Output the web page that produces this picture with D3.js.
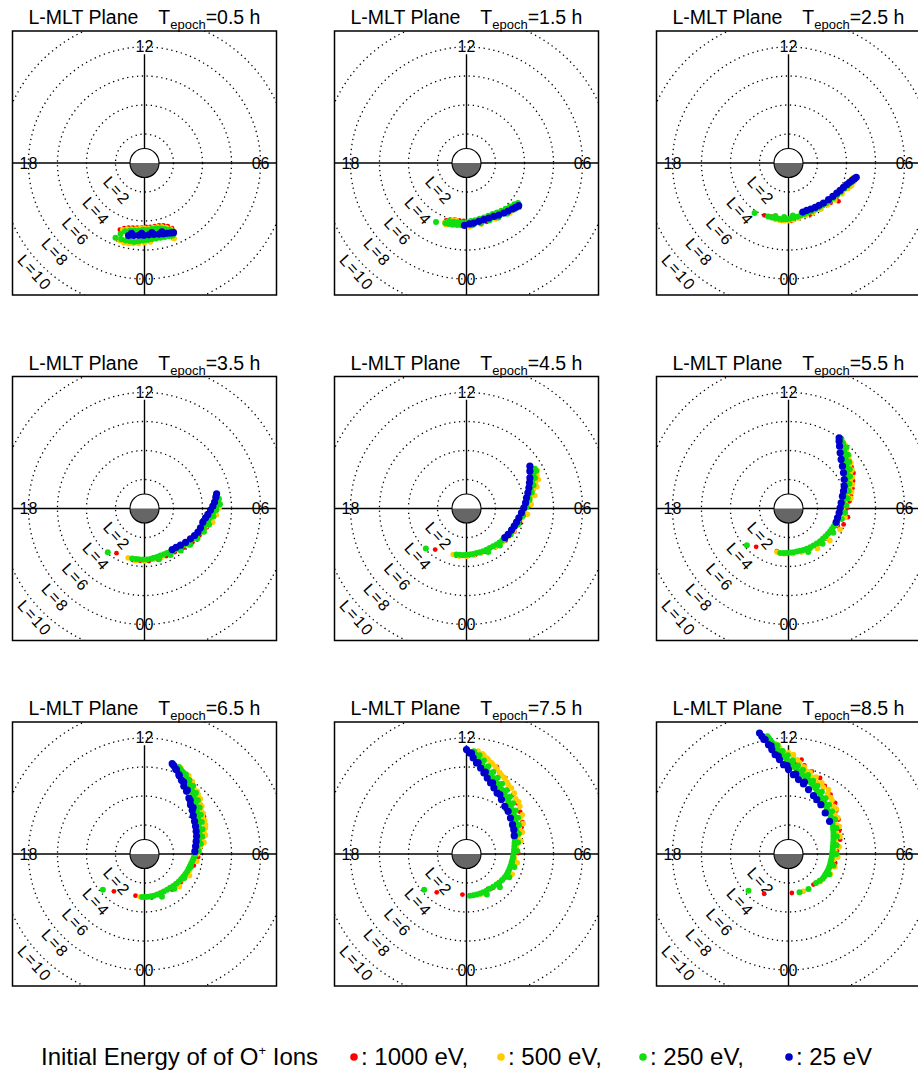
<!DOCTYPE html>
<html>
<head>
<meta charset="utf-8">
<script src="https://cdn.jsdelivr.net/npm/d3@7"></script>
<style>
  body { margin: 0; background: #fff; }
  svg { display: block; font-family: "Liberation Sans", Arial, sans-serif; }
</style>
</head>
<body>
<div id="chart"></div>
<script>
// epochs of the nine panels (hours)
var epochs = [0.5, 1.5, 2.5, 3.5, 4.5, 5.5, 6.5, 7.5, 8.5];
var lShells = [2, 4, 6, 8, 10];
var mltLabels = ['12', '06', '00', '18'];
var mltHours = [12, 6, 0, 18];
var energies = [1000, 500, 250, 25];

// ion positions, [dawnward, sunward] in Earth radii, one list per epoch
var o1000eV = [
  [[-1.7,-4.6],[-1.4,-4.5],[-1.1,-4.45],[-0.8,-4.45],[-0.5,-4.45],[-0.2,-4.45],[0.1,-4.4],[0.4,-4.4],[0.7,-4.35],[1.0,-4.3],[1.3,-4.3],[1.6,-4.35],[1.9,-4.5],[-1.8,-5.3],[2.0,-5.2]],
  [[-1.4,-3.95],[-1.1,-3.9],[-0.8,-3.9],[-0.5,-3.95],[2.9,-3.2],[3.2,-3.05],[3.45,-2.95],[-1.3,-4.2],[1.4,-4.05],[-0.2,-4.0]],
  [[-1.66,-3.61],[-1.2,-3.7],[-0.5,-3.98],[0.2,-3.98],[1.5,-3.55],[2.9,-2.75],[3.45,-2.64],[3.3,-2.4],[4.3,-1.6],[-0.9,-3.8]],
  [[-1.93,-3.08],[-0.8,-3.55],[-0.3,-3.6],[0.3,-3.62],[0.9,-3.5],[1.5,-3.28],[2.1,-3.0],[2.7,-2.7],[3.3,-2.35],[3.63,-2.14],[3.8,-1.85],[4.3,-1.3],[4.7,-0.5]],
  [[-2.16,-2.83],[-0.7,-3.25],[-0.3,-3.27],[0.1,-3.27],[0.6,-3.2],[1.3,-2.98],[2.0,-2.68],[2.7,-2.2],[3.3,-1.6],[3.7,-1.0],[4.1,-0.4],[4.35,0.2],[4.55,0.9],[4.7,1.5]],
  [[-2.23,-2.64],[-0.8,-2.94],[-0.3,-3.1],[0.3,-3.12],[0.9,-3.0],[1.5,-2.8],[2.1,-2.45],[2.6,-2.05],[3.0,-1.65],[3.4,-1.2],[3.8,-1.1],[4.1,-0.6],[4.0,0.0],[4.2,0.5],[4.3,0.9],[4.4,1.4],[4.45,1.9],[4.48,2.45],[4.35,2.85],[4.2,3.3]],
  [[-2.11,-2.57],[-0.62,-2.87],[0.5,-3.0],[1.1,-2.69],[1.2,-2.85],[1.9,-2.45],[2.5,-1.95],[3.0,-1.4],[3.4,-0.8],[3.7,-0.2],[4.05,0.76],[3.86,1.45],[4.1,1.2],[4.09,2.6],[3.9,2.8],[3.75,3.86],[3.86,3.4],[3.45,4.3]],
  [[-2.05,-2.64],[-0.28,-2.8],[1.49,-2.41],[1.8,-2.35],[2.5,-1.8],[3.0,-1.0],[3.3,-0.5],[3.56,0.07],[3.6,0.8],[3.75,1.5],[3.79,1.85],[3.86,2.2],[3.5,2.0],[3.7,2.9],[3.5,3.5],[3.22,4.1],[2.87,4.44],[2.64,5.24],[2.3,5.59],[2.1,6.0]],
  [[-1.68,-2.74],[0.23,-2.69],[1.72,-2.11],[2.18,-1.82],[2.5,-1.55],[3.22,-0.62],[3.35,0.2],[3.56,0.99],[3.5,1.6],[3.45,2.37],[3.3,3.0],[3.22,3.52],[2.9,4.1],[2.5,4.7],[2.18,5.24],[1.6,5.7],[1.1,6.1],[0.57,6.28],[0.9,6.5],[0.3,6.8]]
];

var o500eV = [
  [[-1.5,-4.6],[-1.2,-4.55],[-0.9,-4.55],[-0.6,-4.55],[-0.3,-4.5],[0.0,-4.5],[0.3,-4.5],[0.6,-4.45],[0.9,-4.4],[1.2,-4.4],[1.5,-4.45],[1.8,-4.55],[2.05,-4.75],[2.05,-5.2],[-1.7,-5.35],[-1.4,-5.5],[-1.1,-5.55],[-0.8,-5.55],[-0.4,-5.55],[0.0,-5.5],[0.4,-5.45]],
  [[-1.5,-4.1],[-1.3,-4.05],[-1.0,-3.95],[-0.7,-3.95],[2.6,-3.3],[2.9,-3.1],[3.25,-2.95],[3.5,-2.8],[-1.4,-4.25],[0.2,-4.4],[1.0,-4.2],[2.0,-3.85],[3.0,-3.45]],
  [[-0.9,-3.9],[-0.6,-3.95],[-0.3,-3.98],[0.0,-3.97],[0.3,-3.92],[0.7,-3.8],[1.2,-3.62],[1.7,-3.42],[2.2,-3.18],[2.7,-2.9],[3.2,-2.55],[3.7,-2.12],[4.1,-1.75],[4.35,-1.55],[4.5,-1.3],[4.4,-1.05]],
  [[-1.13,-3.4],[-0.6,-3.6],[0.0,-3.62],[0.6,-3.52],[1.2,-3.35],[1.8,-3.12],[2.4,-2.82],[3.0,-2.52],[3.5,-2.1],[3.9,-1.65],[4.25,-1.2],[4.55,-0.75],[4.8,-0.3],[5.0,0.1],[5.1,0.4],[5.15,0.05],[4.95,-0.45],[4.7,-0.95]],
  [[-0.92,-3.17],[-0.5,-3.28],[0.0,-3.3],[0.5,-3.22],[1.0,-3.08],[1.5,-2.88],[2.0,-2.62],[2.5,-2.3],[2.9,-1.95],[3.25,-1.55],[3.55,-1.1],[3.8,-0.65],[4.0,-0.2],[4.2,0.3],[4.4,0.8],[4.6,1.3],[4.75,1.8],[4.85,2.3],[4.7,0.9],[4.85,1.5],[4.95,2.0],[4.9,2.6],[4.45,0.3],[4.2,-0.4]],
  [[-0.8,-3.0],[-0.3,-3.12],[0.3,-3.1],[0.9,-2.98],[1.5,-2.72],[2.1,-2.38],[2.6,-1.98],[3.0,-1.55],[3.3,-1.1],[3.55,-0.6],[3.75,-0.1],[3.9,0.4],[4.05,0.9],[4.2,1.4],[4.25,1.9],[4.25,2.4],[4.2,2.9],[4.1,3.4],[4.0,3.9],[3.9,4.4],[4.3,0.7],[4.35,1.15],[4.4,1.65],[4.4,2.15],[4.38,2.65],[4.3,3.15],[4.2,3.65],[3.9,-0.6],[3.55,-1.45],[2.85,-2.2],[2.0,-2.75]],
  [[-0.3,-2.95],[1.0,-2.8],[2.0,-2.3],[2.6,-1.75],[3.1,-1.15],[3.45,-0.5],[3.65,0.0],[3.85,0.5],[3.95,1.0],[4.1,1.5],[4.21,2.02],[4.0,2.5],[3.9,3.0],[3.75,3.5],[3.63,4.32],[3.4,4.55],[3.17,4.78],[2.83,5.24],[2.7,5.65],[2.5,5.95],[4.1,0.8],[4.2,1.3],[4.2,1.8],[4.15,2.3],[4.05,2.8],[3.95,3.3],[3.85,3.8],[3.7,4.1],[3.3,5.0],[3.05,5.4],[3.6,-0.5],[3.1,-1.5],[2.4,-2.25]],
  [[1.0,-2.75],[2.2,-2.0],[2.9,-1.2],[3.3,-0.3],[3.45,0.5],[3.55,1.2],[3.65,1.8],[3.7,2.5],[3.68,3.29],[3.4,3.8],[3.1,4.55],[2.8,4.95],[2.55,5.3],[2.3,5.59],[2.0,6.0],[1.7,6.3],[1.4,6.6],[1.1,6.9],[0.8,7.1],[3.75,0.9],[3.85,1.5],[3.9,2.1],[3.85,2.7],[3.6,3.6],[3.3,4.2],[2.9,4.75],[2.65,5.2],[2.4,5.45],[2.1,5.85],[1.8,6.2],[1.5,6.5],[1.2,6.8],[3.5,-0.6],[3.15,-1.4]],
  [[-0.39,7.08],[-0.1,6.9],[0.34,6.85],[0.6,6.5],[1.0,6.0],[1.26,5.7],[1.6,5.3],[2.0,4.9],[2.4,4.6],[2.76,4.44],[2.9,3.9],[3.1,3.29],[3.2,2.7],[3.33,2.0],[3.33,1.45],[3.25,0.8],[3.2,0.2],[3.1,-0.4],[2.9,-0.9],[2.6,-1.45],[2.2,-1.9],[1.03,-2.57],[3.5,0.5],[3.55,1.2],[3.5,1.9],[3.4,2.5],[3.3,3.1],[3.0,3.7],[2.7,4.15],[2.3,4.9],[1.9,5.3],[1.5,5.65],[1.1,6.0],[0.75,6.3],[0.35,6.6],[0.0,7.0],[-0.6,7.3],[-0.9,7.6],[3.4,-0.2],[3.2,-0.9],[2.9,-1.4]]
];

var o250eV = [
  [[-2.0,-5.15],[-1.65,-4.9],[-1.6,-5.25],[-1.35,-4.7],[-1.3,-5.35],[-1.0,-4.65],[-1.0,-5.4],[-0.7,-4.65],[-0.7,-5.45],[-0.4,-4.65],[-0.4,-5.4],[-0.1,-4.6],[-0.1,-5.35],[0.2,-4.6],[0.2,-5.3],[0.5,-4.55],[0.5,-5.25],[0.8,-4.5],[0.8,-5.2],[1.1,-4.5],[1.1,-5.15],[1.4,-4.55],[1.4,-5.1],[1.7,-4.6],[1.7,-5.05],[1.95,-4.7],[1.95,-5.0]],
  [[-2.1,-4.07],[-1.45,-4.15],[-1.2,-4.2],[-1.2,-4.0],[-0.95,-4.25],[-0.9,-4.05],[-0.65,-4.28],[-0.6,-4.08],[-0.35,-4.3],[-0.3,-4.1],[0.0,-4.1],[0.3,-4.0],[0.6,-3.95],[0.9,-3.85],[1.2,-3.75],[1.5,-3.63],[1.8,-3.52],[2.1,-3.42],[2.4,-3.3],[2.7,-3.15],[3.0,-3.0],[3.3,-2.85],[3.55,-2.75],[0.4,-4.3],[1.0,-4.15],[1.6,-3.95],[2.2,-3.75],[2.8,-3.5],[3.3,-3.2],[3.6,-3.05]],
  [[-2.34,-3.45],[-1.4,-3.68],[-1.15,-3.75],[-0.9,-3.8],[-0.65,-3.85],[-0.4,-3.88],[-0.15,-3.88],[0.1,-3.85],[0.35,-3.78],[0.6,-3.7],[0.85,-3.62],[1.1,-3.52],[1.35,-3.42],[1.6,-3.32],[1.85,-3.2],[2.1,-3.07],[2.35,-2.93],[2.6,-2.78],[2.85,-2.6],[3.1,-2.42],[3.35,-2.22],[3.6,-2.0],[3.85,-1.78],[4.1,-1.55],[4.35,-1.32],[4.55,-1.12],[-0.9,-3.65],[-0.3,-3.72],[0.3,-3.62],[0.9,-3.45]],
  [[-2.53,-3.01],[-0.85,-3.45],[-0.6,-3.48],[-0.4,-3.5],[-0.1,-3.52],[0.18,-3.52],[0.45,-3.46],[0.65,-3.4],[0.9,-3.32],[1.1,-3.24],[1.35,-3.15],[1.55,-3.07],[1.8,-2.97],[2.02,-2.87],[2.25,-2.76],[2.48,-2.65],[2.7,-2.53],[2.94,-2.41],[3.12,-2.25],[3.3,-2.1],[3.47,-1.95],[3.63,-1.79],[3.8,-1.62],[3.95,-1.45],[4.08,-1.28],[4.21,-1.1],[4.32,-0.95],[4.4,-0.8],[4.48,-0.66],[4.55,-0.53],[4.65,-0.38],[4.72,-0.25],[4.82,-0.1],[4.9,0.05],[4.96,0.2],[5.02,0.35],[5.08,0.5],[5.13,0.67],[4.95,-0.1],[4.75,-0.55],[4.45,-1.1],[4.1,-1.6],[3.65,-2.05],[3.15,-2.5],[2.5,-2.9],[1.8,-3.2],[1.0,-3.5],[5.2,0.3]],
  [[-2.8,-2.76],[-0.69,-3.17],[-0.45,-3.19],[-0.2,-3.2],[0.0,-3.19],[0.23,-3.17],[0.45,-3.13],[0.7,-3.07],[0.92,-3.01],[1.15,-2.94],[1.38,-2.84],[1.6,-2.73],[1.83,-2.61],[2.07,-2.48],[2.27,-2.35],[2.45,-2.2],[2.6,-2.06],[2.76,-1.91],[2.9,-1.74],[3.05,-1.57],[3.2,-1.4],[3.33,-1.22],[3.45,-1.02],[3.57,-0.82],[3.68,-0.62],[3.79,-0.41],[3.88,-0.2],[3.98,0.0],[4.06,0.2],[4.14,0.39],[4.2,0.62],[4.27,0.85],[4.34,1.08],[4.41,1.31],[4.45,1.54],[4.5,1.77],[4.55,2.0],[4.6,2.23],[4.65,2.48],[4.71,2.74],[3.05,-1.8],[3.55,-1.1],[3.9,-0.5],[4.15,0.1],[4.35,0.6],[4.5,1.1],[4.62,1.6],[4.72,2.1],[4.8,2.6],[2.3,-2.55],[1.5,-3.0]],
  [[-2.87,-2.53],[-0.57,-3.06],[-0.33,-3.07],[-0.1,-3.06],[0.12,-3.04],[0.34,-3.01],[0.57,-2.97],[0.8,-2.92],[1.03,-2.86],[1.26,-2.78],[1.5,-2.67],[1.72,-2.55],[1.95,-2.41],[2.18,-2.25],[2.37,-2.09],[2.55,-1.92],[2.72,-1.74],[2.87,-1.56],[3.0,-1.39],[3.12,-1.22],[3.23,-1.05],[3.33,-0.87],[3.42,-0.67],[3.5,-0.47],[3.57,-0.27],[3.63,-0.07],[3.69,0.17],[3.75,0.4],[3.8,0.63],[3.84,0.85],[3.88,1.08],[3.92,1.3],[3.95,1.54],[3.98,1.77],[4.0,2.0],[4.02,2.23],[4.02,2.46],[4.02,2.69],[4.0,2.92],[3.98,3.15],[3.95,3.38],[3.91,3.61],[3.87,3.84],[3.83,4.07],[3.79,4.3],[3.75,4.53],[3.65,4.8],[3.9,-0.3],[4.0,0.2],[4.08,0.7],[4.15,1.2],[4.2,1.7],[4.24,2.2],[4.22,2.7],[4.18,3.2],[4.1,3.7],[4.0,4.2],[1.36,-3.0],[2.35,-2.43],[3.09,-1.68],[3.67,-0.72]],
  [[-2.87,-2.46],[-0.16,-2.97],[0.05,-2.97],[0.25,-2.95],[0.45,-2.92],[0.64,-2.87],[0.87,-2.79],[1.1,-2.7],[1.33,-2.59],[1.56,-2.46],[1.77,-2.33],[1.98,-2.2],[2.18,-2.05],[2.37,-1.89],[2.53,-1.72],[2.68,-1.55],[2.82,-1.38],[2.94,-1.2],[3.04,-1.02],[3.13,-0.85],[3.21,-0.68],[3.29,-0.51],[3.36,-0.35],[3.42,-0.2],[3.47,-0.06],[3.52,0.07],[3.59,0.3],[3.65,0.53],[3.7,0.76],[3.75,0.99],[3.77,1.22],[3.77,1.45],[3.76,1.68],[3.75,1.91],[3.73,2.14],[3.7,2.37],[3.67,2.6],[3.63,2.83],[3.58,3.12],[3.52,3.4],[3.46,3.69],[3.4,3.98],[3.33,4.22],[3.25,4.45],[3.16,4.68],[3.06,4.9],[2.97,5.08],[2.87,5.25],[2.77,5.42],[2.67,5.59],[2.58,5.7],[2.5,5.8],[2.43,5.9],[2.37,6.0],[3.75,0.2],[3.88,0.7],[3.97,1.2],[4.0,1.7],[3.95,2.2],[3.88,2.7],[3.8,3.2],[3.68,3.7],[3.55,4.2],[3.35,4.7],[3.1,5.1],[2.85,5.5],[3.2,-0.9],[2.75,-1.65],[2.05,-2.4],[1.2,-2.95]],
  [[-2.92,-2.46],[0.23,-2.87],[0.47,-2.84],[0.7,-2.8],[0.93,-2.73],[1.15,-2.64],[1.38,-2.53],[1.6,-2.4],[1.84,-2.26],[2.07,-2.11],[2.27,-1.96],[2.45,-1.8],[2.62,-1.62],[2.76,-1.43],[2.86,-1.24],[2.95,-1.05],[3.03,-0.84],[3.1,-0.62],[3.15,-0.45],[3.2,-0.28],[3.23,-0.1],[3.26,0.07],[3.28,0.3],[3.3,0.53],[3.31,0.76],[3.33,0.99],[3.37,1.22],[3.4,1.45],[3.43,1.68],[3.45,1.91],[3.4,2.15],[3.35,2.4],[3.29,2.62],[3.22,2.83],[3.14,3.04],[3.05,3.25],[2.96,3.44],[2.87,3.63],[2.76,3.84],[2.65,4.05],[2.53,4.25],[2.41,4.44],[2.28,4.65],[2.15,4.85],[2.0,5.05],[1.84,5.24],[1.7,5.42],[1.55,5.6],[1.4,5.77],[1.26,5.93],[1.11,6.14],[0.97,6.35],[0.83,6.55],[0.69,6.74],[0.6,6.9],[0.51,7.08],[3.5,0.2],[3.55,0.8],[3.6,1.4],[3.62,2.0],[3.55,2.5],[3.4,3.0],[3.2,3.5],[3.0,3.95],[2.75,4.4],[2.45,4.85],[2.15,5.25],[1.85,5.65],[1.5,6.05],[1.2,6.45],[0.9,6.8],[3.3,-0.9],[2.95,-1.6],[2.3,-2.3],[1.4,-2.8]],
  [[-2.76,-2.53],[0.76,-2.64],[1.38,-2.41],[1.9,-2.0],[2.15,-1.85],[2.35,-1.7],[2.45,-1.57],[2.53,-1.43],[2.62,-1.29],[2.7,-1.15],[2.77,-1.0],[2.83,-0.85],[2.88,-0.68],[2.92,-0.5],[2.96,-0.33],[2.99,-0.16],[3.01,0.0],[3.03,0.18],[3.05,0.35],[3.06,0.53],[3.08,0.77],[3.1,1.0],[3.1,1.22],[3.1,1.45],[3.08,1.68],[3.06,1.9],[3.03,2.14],[2.99,2.37],[2.91,2.57],[2.82,2.77],[2.73,2.97],[2.64,3.17],[2.56,3.35],[2.47,3.52],[2.39,3.69],[2.3,3.86],[2.19,4.03],[2.07,4.2],[1.96,4.38],[1.84,4.55],[1.7,4.73],[1.55,4.9],[1.41,5.07],[1.26,5.24],[1.08,5.38],[0.9,5.52],[0.74,5.67],[0.57,5.82],[0.43,5.96],[0.28,6.1],[0.14,6.25],[0.0,6.39],[-0.15,6.54],[-0.3,6.68],[-0.44,6.83],[-0.57,6.97],[-0.69,7.11],[-0.8,7.25],[-0.92,7.4],[-1.03,7.54],[-1.14,7.7],[-1.25,7.85],[-1.35,7.98],[-1.45,8.11],[3.3,0.0],[3.32,0.6],[3.33,1.2],[3.3,1.8],[3.2,2.4],[3.0,2.95],[2.8,3.4],[2.55,3.85],[2.3,4.3],[2.0,4.7],[1.7,5.05],[1.35,5.45],[1.0,5.8],[0.65,6.1],[0.3,6.45],[-0.05,6.8],[-0.4,7.1],[-0.75,7.5],[3.1,-0.8],[2.8,-1.4]]
];

var o25eV = [
  [[-1.1,-5.0],[-0.75,-5.0],[-0.4,-4.98],[-0.05,-4.98],[0.3,-4.95],[0.65,-4.92],[1.0,-4.9],[1.3,-4.88],[1.55,-4.85],[1.8,-4.82],[2.0,-4.8],[-0.9,-4.85],[-0.2,-4.85],[0.5,-4.8],[1.2,-4.75]],
  [[-0.14,-4.3],[0.2,-4.2],[0.5,-4.14],[0.85,-4.02],[1.2,-3.91],[1.54,-3.79],[1.89,-3.68],[2.23,-3.59],[2.57,-3.45],[2.87,-3.31],[3.15,-3.17],[3.38,-3.06],[3.6,-2.94]],
  [[0.99,-3.38],[1.26,-3.26],[1.54,-3.17],[1.84,-3.06],[2.11,-2.92],[2.41,-2.76],[2.76,-2.53],[3.06,-2.3],[3.33,-2.07],[3.56,-1.89],[3.79,-1.68],[4.02,-1.49],[4.21,-1.33],[4.39,-1.2],[4.55,-1.08],[4.67,-0.99]],
  [[1.91,-2.83],[2.18,-2.67],[2.48,-2.53],[2.83,-2.34],[3.17,-2.09],[3.45,-1.86],[3.68,-1.63],[3.86,-1.33],[4.02,-0.94],[4.21,-0.64],[4.37,-0.41],[4.55,-0.11],[4.71,0.16],[4.83,0.44],[4.92,0.78],[4.97,1.01]],
  [[2.64,-2.0],[2.87,-1.79],[3.1,-1.49],[3.29,-1.22],[3.45,-0.94],[3.61,-0.64],[3.79,-0.3],[3.95,0.05],[4.07,0.39],[4.14,0.74],[4.23,1.08],[4.3,1.43],[4.34,1.77],[4.37,2.11],[4.37,2.57],[4.37,2.92]],
  [[3.29,-0.94],[3.38,-0.64],[3.49,-0.3],[3.56,0.05],[3.63,0.39],[3.72,0.85],[3.79,1.2],[3.84,1.54],[3.84,2.0],[3.79,2.46],[3.72,2.92],[3.63,3.38],[3.56,3.84],[3.52,4.3],[3.49,4.64],[3.49,4.87]],
  [[3.47,0.18],[3.52,0.53],[3.56,0.87],[3.59,1.22],[3.56,1.56],[3.52,1.91],[3.45,2.25],[3.36,2.64],[3.29,3.01],[3.17,3.4],[3.06,3.86],[2.9,4.32],[2.71,4.67],[2.55,5.08],[2.37,5.47],[2.21,5.82],[2.02,6.09],[1.91,6.23],[2.15,5.85],[2.4,5.4],[2.7,4.95],[2.95,4.4],[3.15,3.7],[3.35,3.2]],
  [[0.0,7.2],[0.23,6.97],[0.46,6.62],[0.69,6.28],[0.97,5.93],[1.2,5.59],[1.43,5.24],[1.66,4.9],[1.89,4.55],[2.11,4.21],[2.41,3.75],[2.64,3.29],[2.87,2.94],[3.03,2.48],[3.17,2.02],[3.26,1.68],[3.29,1.26],[0.35,6.95],[0.8,6.3],[1.3,5.65],[1.8,4.9],[2.3,4.1]],
  [[-2.0,8.34],[-1.84,8.11],[-1.61,7.89],[-1.38,7.54],[-1.15,7.2],[-0.92,6.85],[-0.62,6.51],[-0.34,6.16],[0.0,5.82],[0.34,5.47],[0.69,5.13],[1.03,4.83],[1.38,4.44],[1.72,4.02],[1.95,3.75],[2.23,3.4],[2.53,2.83],[2.83,2.25],[-1.7,7.9],[-1.2,7.45],[-0.7,6.75],[-0.1,6.1],[0.5,5.5],[1.1,4.95]]
];

var series = [o1000eV, o500eV, o250eV, o25eV];
var colors = ['#ff0000', '#ffcc00', '#11dd11', '#0000cc'];
var dotR = [2.4, 2.8, 3.0, 3.6];

var width = 918, height = 1073;
var size = 264, lMax = 9.1;
var colLeft = [12.5, 334.5, 656.5];
var rowTop = [31, 376.5, 722];

var svg = d3.select('#chart').append('svg')
  .attr('width', width)
  .attr('height', height);

var x = d3.scaleLinear().domain([-lMax, lMax]).range([0, size]);
var y = d3.scaleLinear().domain([-lMax, lMax]).range([size, 0]);
var rad = d3.scaleLinear().domain([0, lMax]).range([0, size / 2]);

svg.append('defs').append('clipPath').attr('id', 'frameClip')
  .append('rect').attr('width', size).attr('height', size);

// MLT hour -> position (12 up, 06 right)
function mltX(L, h) { return -L * Math.sin((h - 12) * Math.PI / 12); }
function mltY(L, h) { return L * Math.cos((h - 12) * Math.PI / 12); }

var halfDisk = d3.arc().innerRadius(0).outerRadius(rad(1));

epochs.forEach(function(t, i) {
  var g = svg.append('g')
    .attr('transform', 'translate(' + colLeft[i % 3] + ',' + rowTop[Math.floor(i / 3)] + ')');

  var plot = g.append('g').attr('clip-path', 'url(#frameClip)');

  plot.selectAll('.ring')
    .data(lShells)
    .enter().append('circle')
    .attr('class', 'ring')
    .attr('cx', x(0)).attr('cy', y(0))
    .attr('r', function(d) { return rad(d); })
    .attr('fill', 'none')
    .attr('stroke', '#000')
    .attr('stroke-width', 1.3)
    .attr('stroke-dasharray', '1.3,3.6');

  plot.append('line')
    .attr('x1', 0).attr('x2', size)
    .attr('y1', y(0)).attr('y2', y(0))
    .attr('stroke', '#000').attr('stroke-width', 1.4);
  plot.append('line')
    .attr('x1', x(0)).attr('x2', x(0))
    .attr('y1', y(7.5)).attr('y2', size)
    .attr('stroke', '#000').attr('stroke-width', 1.4);

  // earth: day side white, night side grey
  plot.append('circle')
    .attr('cx', x(0)).attr('cy', y(0)).attr('r', rad(1))
    .attr('fill', '#fff');
  plot.append('path')
    .attr('d', halfDisk({startAngle: Math.PI / 2, endAngle: 3 * Math.PI / 2}))
    .attr('transform', 'translate(' + x(0) + ',' + y(0) + ')')
    .attr('fill', '#666');
  plot.append('circle')
    .attr('cx', x(0)).attr('cy', y(0)).attr('r', rad(1))
    .attr('fill', 'none').attr('stroke', '#000').attr('stroke-width', 1.1);

  plot.selectAll('.mlt')
    .data(mltLabels)
    .enter().append('text')
    .attr('class', 'mlt')
    .attr('x', function(d, k) { return x(mltX(8, mltHours[k])); })
    .attr('y', function(d, k) { return y(mltY(8, mltHours[k])); })
    .attr('text-anchor', 'middle')
    .attr('dominant-baseline', 'central')
    .style('font-size', '16px')
    .text(function(d) { return d; });

  plot.selectAll('.lab')
    .data(lShells)
    .enter().append('text')
    .attr('class', 'lab')
    .attr('transform', function(d) {
      var p = -(d + 0.7) / Math.SQRT2;
      return 'translate(' + x(p) + ',' + y(p) + ') rotate(48)';
    })
    .attr('text-anchor', 'middle')
    .attr('dominant-baseline', 'central')
    .style('font-size', '16px')
    .style('letter-spacing', '1.5px')
    .text(function(d) { return 'L=' + d; });

  // ions, high energy first so the 25 eV ones sit on top
  series.forEach(function(s, k) {
    plot.append('g').selectAll('circle')
      .data(s[i])
      .enter().append('circle')
      .attr('cx', function(d) { return x(d[0]); })
      .attr('cy', function(d) { return y(d[1]); })
      .attr('r', dotR[k])
      .attr('fill', colors[k]);
  });

  g.append('rect')
    .attr('width', size).attr('height', size)
    .attr('fill', 'none').attr('stroke', '#000').attr('stroke-width', 1.5);

  var title = g.append('text')
    .attr('x', size / 2).attr('y', -7)
    .attr('text-anchor', 'middle')
    .style('font-size', '19.5px');
  title.append('tspan').text('L-MLT Plane');
  title.append('tspan').attr('dx', 20).text('T');
  title.append('tspan').attr('dy', 5).style('font-size', '13px').text('epoch');
  title.append('tspan').attr('dy', -5).text('=' + t + ' h');
});

// legend
var legY = 1065;
var legend = svg.append('g');
var lt = legend.append('text').attr('x', 41).attr('y', legY).style('font-size', '24px');
lt.append('tspan').text('Initial Energy of of O');
lt.append('tspan').attr('dy', -10).style('font-size', '13px').text('+');
lt.append('tspan').attr('dy', 10).text(' Ions');

var legX = [354, 501, 643, 789];
energies.forEach(function(e, k) {
  legend.append('circle')
    .attr('cx', legX[k]).attr('cy', legY - 8)
    .attr('r', 3.8)
    .attr('fill', colors[k]);
  legend.append('text')
    .attr('x', legX[k] + 7).attr('y', legY)
    .style('font-size', '24px')
    .text(': ' + e + ' eV' + (k < energies.length - 1 ? ',' : ''));
});
</script>
</body>
</html>
